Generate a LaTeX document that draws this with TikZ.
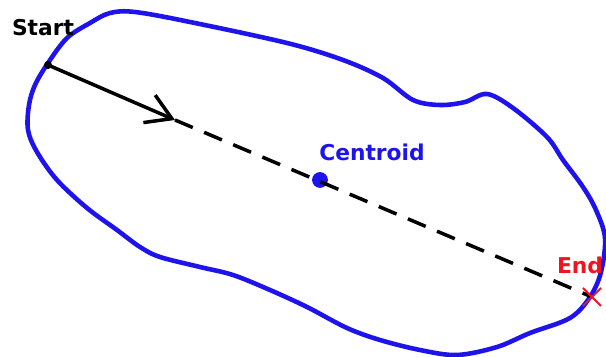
\documentclass[tikz,border=0pt]{standalone}
\usepackage{fontspec}
\setmainfont{DejaVu Sans}
\usetikzlibrary{arrows.meta}

\definecolor{penblue}{RGB}{30,20,235}
\definecolor{penred}{RGB}{240,20,30}

\tikzset{
  lbl/.style={font=\bfseries\fontsize{12.4}{14}\selectfont, inner sep=0pt},
  outline/.style={line width=2.6pt, penblue, line join=round},
  path line/.style={line width=2pt, black}
}

\begin{document}
\begin{tikzpicture}[x=0.02cm, y=-0.02cm]
        \useasboundingbox (0,0) rectangle (606,357);

        % Outline of the region
        \draw[outline] plot[smooth cycle, tension=0.55] coordinates {
            (48,63) (67,38) (90,23) (110,13) (135,12) (190,22) (287,43) (343,60)
            (383,78) (413,100) (440,105) (465,102) (487,94) (513,108) (547,137)
            (563,160) (583,187) (596,210) (605,238) (601,272) (590,297) (570,318)
            (530,333) (497,347) (457,355) (420,350) (380,340) (347,328) (307,307)
            (270,290) (233,275) (200,267) (160,257) (140,247) (117,230) (87,208)
            (57,180) (37,152) (28,130) (29,105) (35,85)};

        % Points
        \coordinate (start) at (48,65);
        \coordinate (head) at (175,120);
        \coordinate (end) at (592,297);
        \node[circle, fill=penblue, inner sep=0pt, minimum size=9pt] (centroid) at (320,180) {};
        \fill (start) circle (2.3pt);

        % Path through the centroid
        \draw[path line, -{Straight Barb[length=14pt, width=17pt]}] (start) -- (head);
        \draw[path line, dash pattern=on 11pt off 7pt] (head) -- (end);

        % End marker
        \draw[penred, line width=1.2pt] (end) ++(-9,-9) -- ++(18,18)
            (end) ++(-9,9) -- ++(18,-18);

        % Labels
        \node[lbl] (startlbl) at (43,28) {Start};
        \node[lbl, text=penblue] (centroidlbl) at (372,152) {Centroid};
        \node[lbl, text=penred] (endlbl) at (580,265) {End};
    \end{tikzpicture}
\end{document}
